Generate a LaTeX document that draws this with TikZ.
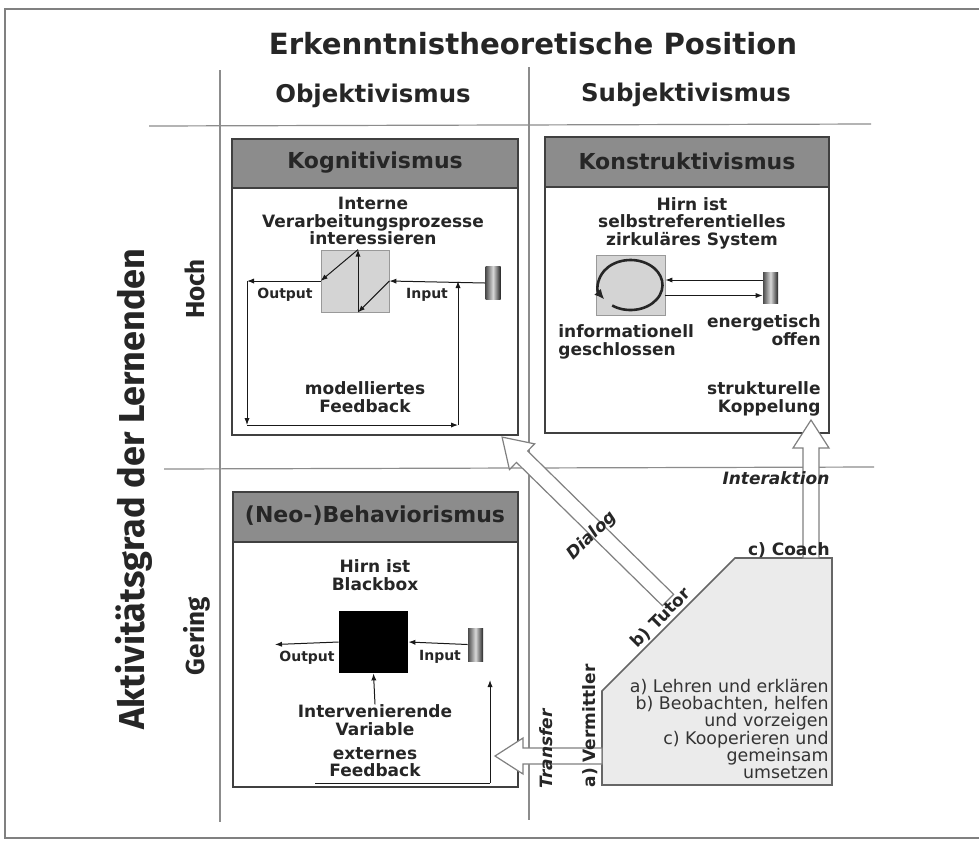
\documentclass[tikz,border=0pt]{standalone}
\usepackage{fontspec}
\setmainfont{DejaVu Sans}
\newfontfamily\axisfont{Fira Sans}
\usetikzlibrary{calc,arrows.meta}

% hollow block arrow from #1 to #2
\newcommand{\blockarrow}[2]{%
  \draw[hollowarrow] let \p1=($(#2)-(#1)$), \n1={atan2(\y1,\x1)}, \n2={veclen(\x1,\y1)} in
    [shift={(#1)},rotate=\n1]
    (0pt,-4pt) -- ({\n2-14pt},-4pt) -- ({\n2-14pt},-9pt) -- ({\n2*1pt},0pt)
    -- ({\n2-14pt},9pt) -- ({\n2-14pt},4pt) -- (0pt,4pt) -- cycle;
}

\begin{document}
\begin{tikzpicture}[x=0.5pt,y=0.5pt]
    \tikzstyle{gridline} = [draw=black!45,line width=0.6pt]
    \tikzstyle{boxframe} = [draw=black!75,line width=0.8pt,fill=white]
    \tikzstyle{boxhead} = [draw=black!75,line width=0.8pt,fill=black!45]
    \tikzstyle{headtext} = [font=\bfseries\fontsize{11}{12}\selectfont,text=black!85,inner sep=0pt]
    \tikzstyle{colhead} = [font=\bfseries\fontsize{12.2}{13}\selectfont,text=black!85,inner sep=0pt]
    \tikzstyle{rowhead} = [font=\axisfont\bfseries\fontsize{13}{14}\selectfont,text=black!85,rotate=90,inner sep=0pt]
    \tikzstyle{bodytext} = [font=\bfseries\fontsize{8.5}{8.75}\selectfont,text=black!85,align=center,inner sep=0pt]
    \tikzstyle{smalltext} = [font=\bfseries\fontsize{7}{8}\selectfont,text=black!85,inner sep=0pt]
    \tikzstyle{plaintext} = [font=\fontsize{8.7}{8.6}\selectfont,text=black!80,align=right,inner sep=0pt]
    \tikzstyle{flowtext} = [font=\bfseries\itshape\fontsize{8.5}{9}\selectfont,text=black!85,inner sep=0pt]
    \tikzstyle{procbox} = [draw=black!40,fill=black!17,inner sep=0pt]
    \tikzstyle{sourcebar} = [inner sep=0pt,left color=black!70,right color=black!85,middle color=black!15]
    \tikzstyle{thinarrow} = [draw=black!90,line width=0.5pt,-{Latex[length=3.5pt,width=2.6pt]}]
    \tikzstyle{hollowarrow} = [draw=black!50,line width=0.6pt,fill=white]

    \useasboundingbox (0,0) rectangle (979,-842);
    \fill[white] (0,0) rectangle (979,-842);
    \draw[draw=black!50,line width=1.1pt] (979,-9) -- (5,-9) -- (5,-838) -- (979,-838);

    % grid of the two axes
    \draw[gridline] (220,-70) -- (220,-822);
    \draw[gridline] (529,-67) -- (529,-820);
    \draw[gridline] (149,-126) -- (871,-124);
    \draw[gridline] (164,-469) -- (874,-467);

    \node (title) [font=\bfseries\fontsize{14.6}{16}\selectfont,text=black!85,inner sep=0pt] at (533,-44) {Erkenntnistheoretische Position};
    \node (objekt) [colhead] at (373,-96) {Objektivismus};
    \node (subjekt) [colhead] at (686,-95) {Subjektivismus};
    \node (aktiv) [font=\axisfont\bfseries\fontsize{18}{20}\selectfont,text=black!85,rotate=90,inner sep=0pt] at (134,-489) {Aktivitätsgrad der Lernenden};
    \node (hoch) [rowhead] at (195,-289) {Hoch};
    \node (gering) [rowhead] at (197,-636) {Gering};

    % Kognitivismus
    \begin{scope}
        \draw[boxframe] (232,-139) rectangle (518,-435);
        \draw[boxhead] (232,-139) rectangle (518,-188);
        \node (kogn) [headtext] at (375,-163) {Kognitivismus};
        \node (kintern) [bodytext] at (373,-221) {Interne\\Verarbeitungsprozesse\\interessieren};
        \node (kproc) [procbox,minimum width=34pt,minimum height=31pt] at (355,-281) {};
        \node (kbar) [sourcebar,minimum width=7.5pt,minimum height=16.5pt] at (493,-283) {};
        \node (kouttext) [smalltext] at (285,-295) {Output};
        \node (kintext) [smalltext] at (427,-295) {Input};
        \node (kfeed) [bodytext] at (365,-397) {modelliertes\\Feedback};
        \coordinate (kout) at (247,-281);
        \coordinate (kfb1) at (247,-425);
        \coordinate (kfb2) at (458,-425);
        \coordinate (kin) at (458,-281);
        \draw[thinarrow] (kbar.west) -- (kproc.east);
        \draw[thinarrow] (kproc.east) -- ([xshift=1.5pt]kproc.south);
        \draw[thinarrow] ([xshift=1.5pt]kproc.south) -- ([xshift=1.5pt]kproc.north);
        \draw[thinarrow] ([xshift=1.5pt]kproc.north) -- (kproc.west);
        \draw[thinarrow] (kproc.west) -- (kout);
        \draw[thinarrow] (kout) -- (kfb1);
        \draw[thinarrow] (kfb1) -- (kfb2);
        \draw[thinarrow] (kfb2) -- (kin);
    \end{scope}

    % Konstruktivismus
    \begin{scope}
        \draw[boxframe] (545,-137) rectangle (829,-433);
        \draw[boxhead] (545,-137) rectangle (829,-187);
        \node (konst) [headtext] at (687,-161) {Konstruktivismus};
        \node (chirn) [bodytext] at (692,-223) {Hirn ist\\selbstreferentielles\\zirkuläres System};
        \node (cproc) [procbox,minimum width=34.5pt,minimum height=30pt] at (630.5,-285) {};
        \node (cbar) [sourcebar,minimum width=7.5pt,minimum height=15.5pt] at (770.5,-287.5) {};
        \draw[line width=1.3pt,draw=black!85,-{Latex[length=5pt,width=4.5pt]}] (cproc.center) ++(235:16pt and 12.5pt) arc[start angle=235,end angle=575,x radius=16pt,y radius=12.5pt];
        \draw[thinarrow] ([yshift=3.75pt]cbar.west) -- ([yshift=3.75pt]cbar.west -| cproc.east);
        \draw[thinarrow] ([yshift=-5.25pt]cproc.east) -- ([yshift=-5.25pt]cproc.east -| cbar.west);
        \node (cenergie) [bodytext,align=right,anchor=east] at (821,-330) {energetisch\\offen};
        \node (cinfo) [bodytext,align=left,anchor=west] at (558,-342) {informationell\\geschlossen};
        \node (cstrukt) [bodytext,align=right,anchor=east] at (821,-399) {strukturelle\\Koppelung};
    \end{scope}

    % (Neo-)Behaviorismus
    \begin{scope}
        \draw[boxframe] (233,-492) rectangle (518,-787);
        \draw[boxhead] (233,-492) rectangle (518,-542);
        \node (behav) [headtext] at (375,-516) {(Neo-)Behaviorismus};
        \node (bhirn) [bodytext] at (375,-575) {Hirn ist\\Blackbox};
        \node (bbox) [fill=black,inner sep=0pt,minimum width=34.5pt,minimum height=31pt] at (373.5,-642) {};
        \node (bbar) [sourcebar,minimum width=7.5pt,minimum height=16.5pt] at (475.5,-644.5) {};
        \node (bouttext) [smalltext] at (307,-658) {Output};
        \node (bintext) [smalltext] at (440,-657) {Input};
        \node (bvar) [bodytext] at (375,-720) {Intervenierende\\Variable};
        \node (bfeed) [bodytext] at (375,-762) {externes\\Feedback};
        \coordinate (bout) at (275,-644.5);
        \coordinate (bfb1) at (315,-783);
        \coordinate (bfb2) at (490,-783);
        \coordinate (bfb3) at (490,-680);
        \draw[thinarrow] (bbar.west) -- (bbox.east);
        \draw[thinarrow] (bbox.west) -- (bout);
        \draw[thinarrow] (bvar.north) -- (bbox.south);
        \draw[thinarrow,-] (bfb1) -- (bfb2);
        \draw[thinarrow] (bfb2) -- (bfb3);
    \end{scope}

    % role of the teacher
    \coordinate (r1) at (602,-785);
    \coordinate (r2) at (602,-691);
    \coordinate (r3) at (735,-558);
    \coordinate (r4) at (832,-558);
    \coordinate (r5) at (832,-785);
    \draw[draw=black!60,line width=0.8pt,fill=black!8] (r1) -- (r2) -- (r3) -- (r4) -- (r5) -- cycle;
    \coordinate (transfertail) at (602,-756);
    \coordinate (transfertip) at (495,-756);
    \coordinate (dialogtail) at (668,-600);
    \coordinate (dialogtip) at (502,-437);
    \coordinate (interaktail) at (811,-558);
    \coordinate (interaktip) at (811,-420);
    \blockarrow{transfertail}{transfertip}
    \blockarrow{dialogtail}{dialogtip}
    \blockarrow{interaktail}{interaktip}
    \node (coach) [bodytext,anchor=base east] at (830,-555) {c) Coach};
    \node (tutor) [bodytext,rotate=45] at (661,-618) {b) Tutor};
    \node (vermittler) [bodytext,rotate=90] at (590,-726) {a) Vermittler};
    \node (transfer) [flowtext,rotate=90] at (546,-749) {Transfer};
    \node (dialog) [flowtext,rotate=45] at (592,-536) {Dialog};
    \node (interaktion) [flowtext] at (776,-478) {Interaktion};
    \node (roletext) [plaintext,anchor=east] at (829,-729) {a) Lehren und erklären\\b) Beobachten, helfen\\und vorzeigen\\c) Kooperieren und\\gemeinsam\\umsetzen};
\end{tikzpicture}
\end{document}
